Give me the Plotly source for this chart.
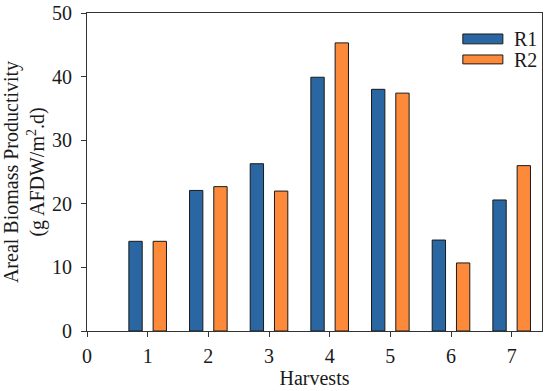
import plotly.graph_objects as go

harvests = [1, 2, 3, 4, 5, 6, 7]
r1 = [14.1, 22.1, 26.3, 39.9, 38.0, 14.3, 20.6]
r2 = [14.1, 22.7, 22.0, 45.3, 37.4, 10.7, 26.0]
series_names = ["R1", "R2"]
series_colors = ["#2a67a2", "#fd8a3b"]
x_ticks = [0, 1, 2, 3, 4, 5, 6, 7]
y_ticks = [0, 10, 20, 30, 40, 50]

FONT = "Liberation Serif, Times New Roman, serif"
FS = 20
EDGE = "#1a1a1a"
fig = go.Figure()
for vals, name, color, off in zip([r1, r2], series_names, series_colors, [-0.31, 0.09]):
    fig.add_trace(go.Bar(x=harvests, y=vals, name=name, width=0.22, offset=off,
                         showlegend=False,
                         marker=dict(color=color, line=dict(color=EDGE, width=1))))

# legend drawn as swatches + labels (wide rectangular keys like the reference)
legend_rows = [(0.934, 0.903, 0.918), (0.868, 0.840, 0.853)]
for (top, bot, mid), name, color in zip(legend_rows, series_names, series_colors):
    fig.add_shape(type="rect", xref="paper", yref="paper", x0=0.826, x1=0.914, y0=bot, y1=top,
                  fillcolor=color, line=dict(color=EDGE, width=1))
    fig.add_annotation(xref="paper", yref="paper", x=0.934, y=mid, text=name, showarrow=False,
                       xanchor="left", yanchor="middle",
                       font=dict(family=FONT, size=FS, color=EDGE))

axis_common = dict(showline=True, linecolor="#333333", linewidth=1, mirror=True,
                   ticks="outside", ticklen=5, tickcolor="#333333", showgrid=False,
                   zeroline=False, automargin=False,
                   tickfont=dict(family=FONT, size=FS, color=EDGE))
fig.update_xaxes(range=[0, 7.5], tickvals=x_ticks, ticktext=[str(v) for v in x_ticks],
                 ticklabelstandoff=2,
                 title=dict(text="Harvests", font=dict(family=FONT, size=FS, color=EDGE), standoff=0),
                 **axis_common)
fig.update_yaxes(range=[0, 50], tickvals=y_ticks, ticklabelstandoff=5,
                 title=dict(text="Areal Biomass Productivity<br>(g AFDW/m<sup>2</sup>.d)",
                            font=dict(family=FONT, size=FS, color=EDGE), standoff=2),
                 **axis_common)
fig.update_layout(width=550, height=391, margin=dict(l=87, r=8, t=13, b=60),
                  plot_bgcolor="white", paper_bgcolor="white", showlegend=False,
                  font=dict(family=FONT, size=FS, color=EDGE))
fig.write_html("out.html", config={"displayModeBar": False},
               post_script="document.body.style.margin='0';document.body.style.padding='0';")
